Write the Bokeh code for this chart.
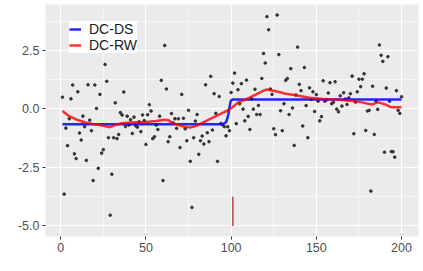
from bokeh.plotting import figure
from bokeh.models import Range1d, FixedTicker, PrintfTickFormatter, Legend, LegendItem
from bokeh.embed import file_html
from bokeh.resources import INLINE

# observed series, index 1..200
obs_y = [0.50, -3.64, -0.82, -1.57, -0.42, 0.43, 1.02, -1.92, -2.12, 0.73,
         -1.03, -1.33, -0.31, -0.76, -2.20, 1.03, -0.48, -0.93, -3.06, 1.02,
         0.02, -2.54, 0.62, -1.89, -1.74, 1.90, 1.18, -1.23, -4.54, -2.79,
         -1.23, 0.26, -1.27, -1.09, -0.16, -0.26, 0.72, -0.75, -0.31, -0.69,
         -0.46, -1.05, -0.35, -0.72, -0.78, -0.55, -0.97, -0.26, -0.50, -1.52,
         -0.25, 0.18, -0.09, -1.27, -1.19, -0.69, -0.88, -0.31, 1.22, -3.06,
         2.71, 0.85, -1.40, -1.19, -0.20, -0.60, -0.42, -0.83, -0.42, -1.65,
         0.62, -0.40, -0.85, -1.36, -0.06, -2.24, -4.21, -1.23, -0.52, -0.24,
         -1.94, -1.36, -1.16, -1.50, 1.03, -1.02, -1.40, 1.39, -0.90, 0.65,
         -0.19, -2.24, 0.53, -0.62, -0.68, -0.76, -1.15, -0.76, -0.93, 0.70,
         1.10, 1.53, -0.63, 0.82, 0.22, 1.08, -0.01, -0.51, 1.23, -0.32,
         -0.88, 0.43, -0.01, 0.84, -0.24, 0.15, -0.24, 1.30, 2.37, 1.96,
         3.94, 3.38, 0.85, 0.62, -0.85, -1.10, 4.01, 2.32, -0.08, -0.93,
         0.22, 1.22, 1.30, -0.24, 1.72, 0.04, -1.56, 0.59, 2.64, 1.05,
         0.78, -0.73, 1.77, 0.14, -1.23, 0.90, 0.41, 0.73, -0.11, 0.61,
         0.33, -0.51, -0.33, 1.20, 0.33, 0.40, 0.68, 1.12, 0.22, 0.28,
         1.16, -0.01, -0.12, 0.56, 0.12, 0.69, 0.42, 0.19, 0.47, 0.65,
         1.40, -1.06, 0.29, 0.73, 1.27, 0.95, 1.27, 1.50, -0.92, -0.09,
         -0.06, -3.51, 0.97, -1.09, 0.33, -0.02, 2.73, 2.29, 2.03, -1.85,
         0.89, 2.23, 0.33, -1.82, -1.83, -2.06, 0.78, -0.06, -0.19, 0.52]
obs_x = list(range(1, len(obs_y) + 1))

# DC-DS fitted curve
ds_x = [1, 94, 95, 96, 97, 97.6, 98.3, 99, 99.6, 100.2, 101, 200]
ds_y = [-0.65, -0.65, -0.64, -0.62, -0.56, -0.45, -0.25, 0.05, 0.30, 0.38, 0.40, 0.40]

# DC-RW fitted curve
rw_x = [1, 5, 9, 15, 20, 25, 29, 32, 36, 43, 50, 56, 61, 63, 66, 72, 76, 80, 86,
        92, 96, 100, 104, 109, 115, 119, 121, 124, 128, 132, 138, 146, 154, 162,
        170, 176, 181, 183, 186, 190, 194, 200]
rw_y = [-0.09, -0.31, -0.45, -0.59, -0.66, -0.72, -0.78, -0.68, -0.61, -0.57,
        -0.56, -0.52, -0.46, -0.48, -0.62, -0.75, -0.80, -0.71, -0.49, -0.28,
        -0.14, 0.03, 0.27, 0.42, 0.63, 0.78, 0.83, 0.79, 0.72, 0.65, 0.58,
        0.48, 0.42, 0.40, 0.35, 0.29, 0.21, 0.19, 0.29, 0.20, 0.07, 0.07]

# change point marker
cp_x = [101]
cp_y0 = [-3.75]
cp_y1 = [-5.0]

x_ticks = [0, 50, 100, 150, 200]
x_minor = [25, 75, 125, 175]
y_ticks = [-5.0, -2.5, 0.0, 2.5]
y_minor = [-3.75, -1.25, 1.25, 3.75]

p = figure(width=423, height=271, output_backend="svg", toolbar_location=None,
           x_range=Range1d(-8.95, 209.95), y_range=Range1d(-5.45, 4.46),
           min_border_left=45, min_border_right=5, min_border_top=4,
           min_border_bottom=35)
p.background_fill_color = "#EBEBEB"
p.border_fill_color = "white"
p.outline_line_color = None

p.xaxis.ticker = FixedTicker(ticks=x_ticks, minor_ticks=x_minor)
p.yaxis.ticker = FixedTicker(ticks=y_ticks, minor_ticks=y_minor)
p.yaxis.formatter = PrintfTickFormatter(format="%.1f")

for ax in (p.xaxis, p.yaxis):
    ax.axis_line_color = None
    ax.major_tick_line_color = "#333333"
    ax.major_tick_in = 0
    ax.major_tick_out = 3
    ax.minor_tick_line_color = None
    ax.major_label_text_color = "#4D4D4D"
    ax.major_label_text_font = "Liberation Sans"
    ax.major_label_text_font_size = "12.5px"
    ax.major_label_standoff = 2

for g in (p.xgrid, p.ygrid):
    g.grid_line_color = "white"
    g.grid_line_width = 1.1
    g.minor_grid_line_color = "white"
    g.minor_grid_line_width = 0.55

p.scatter(obs_x, obs_y, size=2.6, color="#333333")
p.segment(x0=cp_x, y0=cp_y0, x1=cp_x, y1=cp_y1, line_color="#B5474F", line_width=1.5)
r_ds = p.line(ds_x, ds_y, line_color="#0000FF", line_width=2.5, line_alpha=0.85)
r_rw = p.line(rw_x, rw_y, line_color="#FF0000", line_width=2.5, line_alpha=0.8)

legend = Legend(items=[LegendItem(label="DC-DS", renderers=[r_ds]),
                       LegendItem(label="DC-RW", renderers=[r_rw])],
                location=(24, 183))
legend.margin = 0
legend.padding = 5
legend.spacing = 0
legend.border_line_color = None
legend.background_fill_color = "white"
legend.background_fill_alpha = 1.0
legend.glyph_width = 12
legend.glyph_height = 12
legend.label_height = 12
legend.label_standoff = 8
legend.label_text_font = "Liberation Sans"
legend.label_text_font_size = "14px"
legend.label_text_color = "#1a1a1a"
p.add_layout(legend)

open("out.html", "w").write(file_html(p, INLINE))
